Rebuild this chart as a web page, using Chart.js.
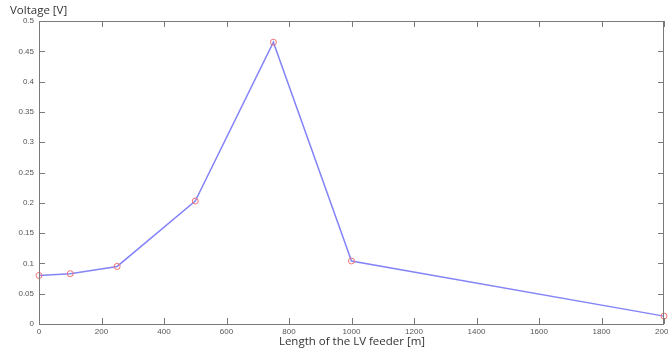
<!DOCTYPE html>
<html>
<head>
<meta charset="utf-8">
<script src="https://cdn.jsdelivr.net/npm/chart.js@4/dist/chart.umd.min.js"></script>
<style>
html,body{margin:0;padding:0;background:#fff;}
#wrap{width:668px;height:352px;position:relative;}
</style>
</head>
<body>
<div id="wrap"><canvas id="c" width="668" height="352"></canvas></div>
<script>
const lengths = [0, 100, 250, 500, 750, 1000, 2000];
const voltages = [0.080, 0.083, 0.095, 0.203, 0.465, 0.104, 0.013];
const xTicks = [0, 200, 400, 600, 800, 1000, 1200, 1400, 1600, 1800, 2000];
const yTicks = [0, 0.05, 0.1, 0.15, 0.2, 0.25, 0.3, 0.35, 0.4, 0.45, 0.5];
const xTitle = 'Length of the LV feeder [m]';
const yTitle = 'Voltage [V]';

const framePlugin = {
  id: 'frame',
  afterDraw(chart) {
    const ctx = chart.ctx;
    const a = chart.chartArea;
    const xs = chart.scales.x, ys = chart.scales.y;
    ctx.save();
    ctx.strokeStyle = '#7a7a7a';
    ctx.lineWidth = 1;
    ctx.beginPath();
    ctx.rect(Math.round(a.left) + 0.5, Math.round(a.top) + 0.5, Math.round(a.right - a.left) - 1, Math.round(a.bottom - a.top));
    ctx.stroke();
    ctx.beginPath();
    const tl = 6;
    xTicks.forEach(v => {
      const px = Math.round(xs.getPixelForValue(v)) + 0.5;
      ctx.moveTo(px, a.bottom); ctx.lineTo(px, a.bottom - tl);
      ctx.moveTo(px, a.top); ctx.lineTo(px, a.top + tl);
    });
    yTicks.forEach(v => {
      const py = Math.round(ys.getPixelForValue(v)) + 0.5;
      ctx.moveTo(a.left, py); ctx.lineTo(a.left + tl, py);
      ctx.moveTo(a.right, py); ctx.lineTo(a.right - tl, py);
    });
    ctx.stroke();
    ctx.fillStyle = '#333';
    ctx.font = '11.5px "Open Sans", "Liberation Sans", sans-serif';
    ctx.textBaseline = 'middle';
    ctx.textAlign = 'left';
    ctx.fillText(yTitle, 10, 11);
    ctx.textAlign = 'center';
    ctx.fillText(xTitle, 352, 342);
    ctx.restore();
  }
};

new Chart(document.getElementById('c'), {
  type: 'line',
  data: {
    datasets: [{
      data: lengths.map((x, i) => ({x: x, y: voltages[i]})),
      borderColor: '#8484f8',
      borderWidth: 1.5,
      tension: 0,
      pointRadius: 3,
      pointHoverRadius: 3,
      pointBorderWidth: 1,
      pointBorderColor: '#f07070',
      pointBackgroundColor: 'rgba(0,0,0,0)',
      clip: false
    }]
  },
  options: {
    responsive: false,
    animation: false,
    events: [],
    layout: {padding: {top: 21, right: 0, left: 0, bottom: 0}},
    plugins: {legend: {display: false}, tooltip: {enabled: false}, title: {display: false}},
    scales: {
      x: {
        type: 'linear', min: 0, max: 2000,
        afterBuildTicks(s) { s.ticks = xTicks.map(v => ({value: v})); },
        afterFit(s) { s.height = 28; s.paddingLeft = 0; s.paddingRight = 0; },
        grid: {display: false, drawTicks: false},
        border: {display: false},
        ticks: {color: '#555', font: {size: 8, family: '"Liberation Sans", Arial, sans-serif'}, padding: 3, maxRotation: 0, autoSkip: false,
          callback: v => String(v)}
      },
      y: {
        type: 'linear', min: 0, max: 0.5,
        afterBuildTicks(s) { s.ticks = yTicks.map(v => ({value: v})); },
        afterFit(s) { s.width = 39; s.paddingTop = 0; s.paddingBottom = 0; },
        grid: {display: false, drawTicks: false},
        border: {display: false},
        ticks: {color: '#555', font: {size: 8, family: '"Liberation Sans", Arial, sans-serif'}, padding: 5, autoSkip: false,
          callback: v => String(Math.round(v * 100) / 100)}
      }
    }
  },
  plugins: [framePlugin]
});
</script>
</body>
</html>
